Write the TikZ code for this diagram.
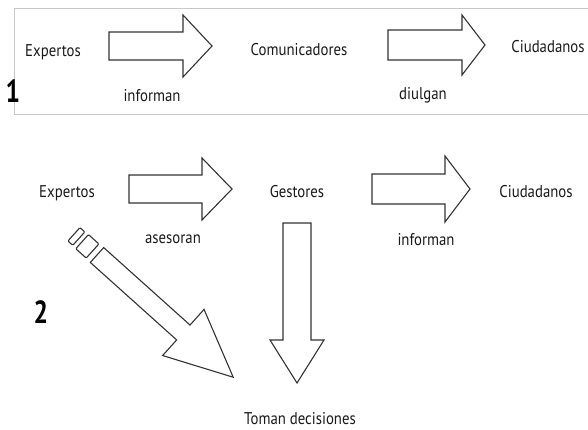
\documentclass[tikz,border=0pt]{standalone}
\usepackage{fontspec}
\setmainfont{PT Sans}[FakeStretch=0.87]
\newfontfamily\numfont{PT Sans}[FakeStretch=0.8]
\usetikzlibrary{positioning}
\tikzset{
  actor/.style={anchor=base, inner sep=0pt, text=black!90, font=\fontsize{17}{19}\selectfont},
  verbo/.style={actor},
  panelnum/.style={anchor=base, inner sep=0pt, font=\numfont\bfseries\fontsize{32}{34}\selectfont},
  flechabox/.style={draw=black!80, line width=1.1pt, line join=miter, fill=white},
  framebox/.style={draw=black!22, line width=0.8pt}
}
% block arrow: start, angle, head base, tip, body half width, head half width
\newcommand{\flecha}[6]{%
  \draw[flechabox, shift={#1}, rotate=#2] (0,-#5) -- (#3,-#5) -- (#3,-#6) -- (#4,0)
    -- (#3,#6) -- (#3,#5) -- (0,#5) -- cycle;}

\begin{document}
\begin{tikzpicture}[x=1pt, y=-1pt]
\useasboundingbox (0,0) rectangle (588,429);

% panel 1
\draw[framebox] (589,8) -- (14,8) -- (14,114) -- (589,114);
\node[panelnum] (num1) at (13,102) {1};
\node[actor] (exp1) at (53,56) {Expertos};
\node[actor] (com1) at (299,55) {Comunicadores};
\node[actor] (ciu1) at (548,52) {Ciudadanos};
\flecha{(109,46)}{0}{74}{103}{14}{31}
\flecha{(388,45)}{0}{74}{97}{15}{30}
\node[verbo] (inf1) at (152,101) {informan};
\node[verbo] (div1) at (423,99) {diulgan};

% panel 2
\node[panelnum] (num2) at (41,323) {2};
\node[actor] (exp2) at (67,197) {Expertos};
\node[actor] (ges2) at (297,197) {Gestores};
\node[actor] (ciu2) at (536,197) {Ciudadanos};
\node[actor] (dec2) at (300,424) {Toman decisiones};
\flecha{(129,189)}{0}{73}{103}{14}{31}
\flecha{(372,189)}{0}{73}{98}{15}{33}
\flecha{(297,223)}{-90}{117}{160}{14}{27}
\node[verbo] (ase2) at (173,243) {asesoran};
\node[verbo] (inf2) at (426,245) {informan};

% diagonal arrow with broken tail
\flecha{(97,255)}{-41.9}{116}{183}{10}{31}
\begin{scope}[shift={(97,255)}, rotate=-41.9]
  \draw[flechabox, rounded corners=1pt] (-20,-9.5) rectangle (-6,9.5);
  \draw[flechabox, rounded corners=1pt] (-31,-9) rectangle (-24.5,9);
\end{scope}
\end{tikzpicture}
\end{document}
